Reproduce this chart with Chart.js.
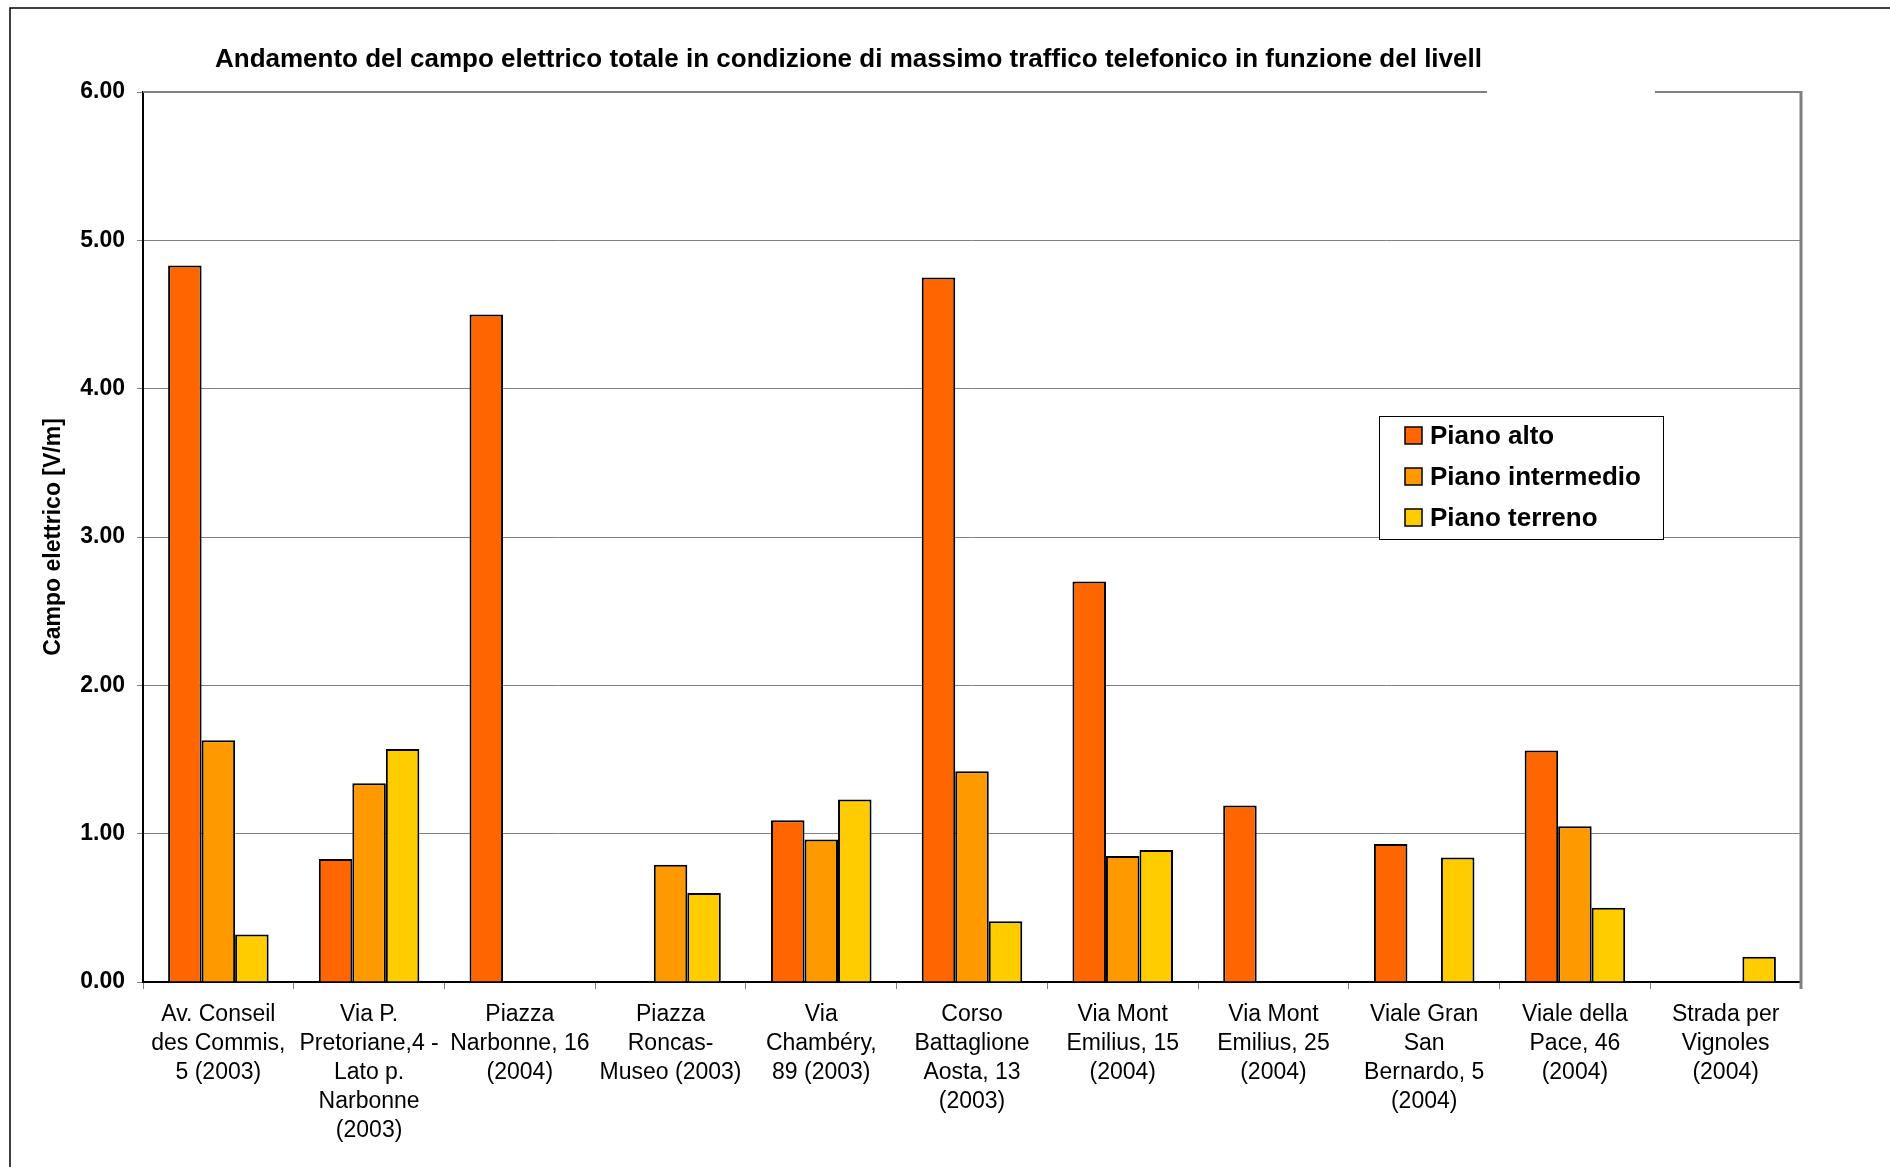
<!DOCTYPE html>
<html lang="it">
<head>
<meta charset="utf-8">
<title>Campo elettrico totale</title>
<script src="https://cdn.jsdelivr.net/npm/chart.js@4"></script>
<style>
  html, body { margin: 0; padding: 0; background: #fff; }
  canvas { display: block; }
</style>
</head>
<body>
<canvas id="chart" width="1890" height="1167"></canvas>
<script>
// Sites (multi-line axis labels)
const categories = [
  ["Av. Conseil", "des Commis,", "5 (2003)"],
  ["Via P.", "Pretoriane,4 -", "Lato p.", "Narbonne", "(2003)"],
  ["Piazza", "Narbonne, 16", "(2004)"],
  ["Piazza", "Roncas-", "Museo (2003)"],
  ["Via", "Chambéry,", "89 (2003)"],
  ["Corso", "Battaglione", "Aosta, 13", "(2003)"],
  ["Via Mont", "Emilius, 15", "(2004)"],
  ["Via Mont", "Emilius, 25", "(2004)"],
  ["Viale Gran", "San", "Bernardo, 5", "(2004)"],
  ["Viale della", "Pace, 46", "(2004)"],
  ["Strada per", "Vignoles", "(2004)"]
];

// Electric field [V/m] per floor level (null = not measured)
const pianoAlto       = [4.83, 0.83, 4.50, null, 1.09, 4.75, 2.70, 1.19, 0.93, 1.56, null];
const pianoIntermedio = [1.63, 1.34, null, 0.79, 0.96, 1.42, 0.85, null, null, 1.05, null];
const pianoTerreno    = [0.32, 1.57, null, 0.60, 1.23, 0.41, 0.89, null, 0.84, 0.50, 0.17];

const seriesNames = ["Piano alto", "Piano intermedio", "Piano terreno"];
const seriesColors = ["#FF6600", "#FF9900", "#FFCC00"];

const yTicks = [0, 1, 2, 3, 4, 5, 6];
const chartTitle = "Andamento del campo elettrico totale in condizione di massimo traffico telefonico in funzione del livell";
const yTitle = "Campo elettrico [V/m]";

const FONT = "'Liberation Sans', Arial, Helvetica, sans-serif";

// Outer frame, plot border, title and legend box
const decorations = {
  id: "decorations",
  beforeDraw(chart) {
    const ctx = chart.ctx;
    ctx.save();
    ctx.fillStyle = "#ffffff";
    ctx.fillRect(0, 0, chart.width, chart.height);
    ctx.strokeStyle = "#000000";
    ctx.lineWidth = 1.5;
    ctx.beginPath();
    ctx.moveTo(10, chart.height + 2);
    ctx.lineTo(10, 8);
    ctx.lineTo(chart.width + 2, 8);
    ctx.stroke();
    ctx.restore();
  },
  afterDraw(chart) {
    const ctx = chart.ctx;
    const a = chart.chartArea;
    ctx.save();

    // plot area border (top and right)
    ctx.strokeStyle = "#808080";
    ctx.lineWidth = 2;
    ctx.beginPath();
    ctx.moveTo(a.left, a.top);
    ctx.lineTo(a.right, a.top);
    ctx.stroke();
    ctx.lineWidth = 3;
    ctx.beginPath();
    ctx.moveTo(a.right, a.top - 1);
    ctx.lineTo(a.right, a.bottom + 7);
    ctx.stroke();

    // gap where the title box sits over the border
    ctx.fillStyle = "#ffffff";
    ctx.fillRect(1487, a.top - 6, 168, 12);

    // title
    ctx.fillStyle = "#000000";
    ctx.font = "bold 26px " + FONT;
    ctx.textAlign = "left";
    ctx.textBaseline = "middle";
    ctx.fillText(chartTitle, 215, 60);

    // legend
    const lx = 1379, ly = 416, lw = 284, lh = 123;
    ctx.fillStyle = "#ffffff";
    ctx.fillRect(lx, ly, lw, lh);
    ctx.strokeStyle = "#000000";
    ctx.lineWidth = 1;
    ctx.strokeRect(lx + 0.5, ly + 0.5, lw, lh);
    const rows = [436, 477, 518];
    ctx.font = "bold 26px " + FONT;
    chart.data.datasets.forEach((ds, i) => {
      const cy = rows[i];
      ctx.fillStyle = ds.backgroundColor;
      ctx.fillRect(1405, cy - 9, 17, 17);
      ctx.strokeStyle = "#000000";
      ctx.lineWidth = 1.5;
      ctx.strokeRect(1405, cy - 9, 17, 17);
      ctx.fillStyle = "#000000";
      ctx.textBaseline = "middle";
      ctx.fillText(ds.label, 1430, cy + 1);
    });
    ctx.restore();
  }
};

const seriesData = [pianoAlto, pianoIntermedio, pianoTerreno];

new Chart(document.getElementById("chart"), {
  type: "bar",
  data: {
    labels: categories,
    datasets: seriesData.map((d, i) => ({
      label: seriesNames[i],
      data: d,
      backgroundColor: seriesColors[i],
      borderColor: "#000000",
      borderWidth: 2,
      borderSkipped: "bottom",
      categoryPercentage: 0.667,
      barPercentage: 1.0
    }))
  },
  options: {
    responsive: false,
    animation: false,
    devicePixelRatio: 1,
    layout: { padding: { top: 92, right: 89, left: 0, bottom: 0 } },
    plugins: {
      legend: { display: false },
      title: { display: false },
      tooltip: { enabled: false }
    },
    scales: {
      x: {
        grid: {
          display: true,
          drawOnChartArea: false,
          drawTicks: true,
          tickLength: 7,
          offset: true,
          color: "#808080",
          lineWidth: 1
        },
        border: { display: true, color: "#000000", width: 2 },
        ticks: {
          autoSkip: false,
          maxRotation: 0,
          minRotation: 0,
          padding: 11,
          color: "#000000",
          font: { family: FONT, size: 23, lineHeight: 29 / 23 }
        },
        afterFit(scale) { scale.height = 185; }
      },
      y: {
        min: 0,
        max: 6,
        afterBuildTicks(scale) { scale.ticks = yTicks.map(v => ({ value: v })); },
        grid: {
          color: "#808080",
          lineWidth: 1,
          drawTicks: true,
          tickLength: 6
        },
        border: { display: true, color: "#000000", width: 2 },
        ticks: {
          padding: 12,
          color: "#000000",
          font: { family: FONT, size: 23, weight: "bold" },
          callback: v => Number(v).toFixed(2)
        },
        title: {
          display: true,
          text: yTitle,
          color: "#000000",
          padding: { top: 40, bottom: 0 },
          font: { family: FONT, size: 23, weight: "bold" }
        },
        afterFit(scale) { scale.width = 143; }
      }
    }
  },
  plugins: [decorations]
});
</script>
</body>
</html>
